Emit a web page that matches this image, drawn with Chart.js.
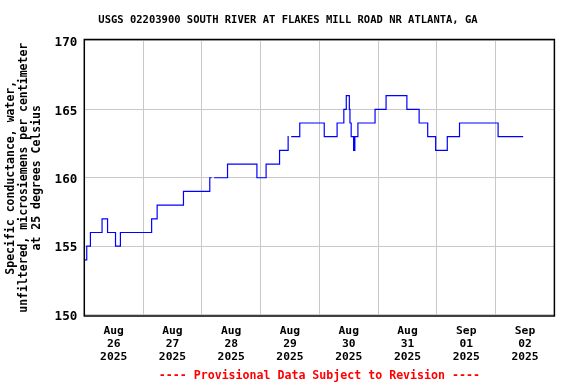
<!DOCTYPE html>
<html>
<head>
<meta charset="utf-8">
<script src="https://cdn.jsdelivr.net/npm/chart.js@4/dist/chart.umd.min.js"></script>
<style>
  html, body { margin: 0; padding: 0; background: #fff; }
  #wrap { width: 576px; height: 384px; }
</style>
</head>
<body>
<div id="wrap"><canvas id="chart"></canvas></div>
<script>
// readings, 2025 (month-day hour:minute) -- only the times the value changes
const times = [
  '08-26 00:15', '08-26 01:00', '08-26 02:30', '08-26 07:15', '08-26 09:30',
  '08-26 12:45', '08-26 14:45', '08-27 03:30', '08-27 05:45', '08-27 16:30',
  '08-28 03:15', '08-28 04:00', '08-28 04:15', '08-28 05:00', '08-28 10:30',
  '08-28 22:30', '08-29 02:15', '08-29 07:45', '08-29 11:15', '08-29 11:30',
  '08-29 11:45', '08-29 12:30', '08-29 16:00', '08-30 02:00', '08-30 07:15',
  '08-30 10:00', '08-30 11:00', '08-30 12:15', '08-30 12:30', '08-30 13:00',
  '08-30 14:00', '08-30 14:30', '08-30 15:45', '08-30 22:45', '08-31 03:15',
  '08-31 11:45', '08-31 16:45', '08-31 20:15', '08-31 23:30', '09-01 04:15',
  '09-01 09:15', '09-02 01:00', '09-02 11:15'
]
const conductance = [
  154, 155, 156, 157, 156,
  155, 156, 157, 158, 159,
  160, 160, null, 160, 161,
  160, 161, 162, 163, 163,
  null, 163, 164, 163, 164,
  165, 166, 165, 164, 163,
  162, 163, 164, 165, 166,
  165, 164, 163, 162, 163,
  164, 163, 163
]

const dayLabels = [
  ['Aug', '26', '2025'], ['Aug', '27', '2025'], ['Aug', '28', '2025'], ['Aug', '29', '2025'],
  ['Aug', '30', '2025'], ['Aug', '31', '2025'], ['Sep', '01', '2025'], ['Sep', '02', '2025']
]
const yTicks = [150, 155, 160, 165, 170]

const chartTitle = 'USGS 02203900 SOUTH RIVER AT FLAKES MILL ROAD NR ATLANTA, GA'
const yTitle = ['Specific conductance, water,', 'unfiltered, microsiemens per centimeter', 'at 25 degrees Celsius']
const footer = '---- Provisional Data Subject to Revision ----'

// hours since Aug 26 00:00
function toHours(s) {
  const [md, hm] = s.split(' ')
  const [m, d] = md.split('-').map(Number)
  const [h, mi] = hm.split(':').map(Number)
  const day = m === 8 ? d - 26 : d + 5
  return day * 24 + h + mi / 60
}

const points = times.map((t, i) => ({ x: toHours(t), y: conductance[i] }))

const mono = 'DejaVu Sans Mono'

const framePlugin = {
  id: 'frame',
  afterDraw(chart) {
    const { ctx, chartArea: a } = chart
    ctx.save()
    ctx.strokeStyle = '#000'
    ctx.lineWidth = 1.5
    ctx.strokeRect(a.left, a.top, a.right - a.left, a.bottom - a.top)
    ctx.fillStyle = '#ff0000'
    ctx.font = 'bold 11.6px ' + mono
    ctx.textAlign = 'center'
    ctx.textBaseline = 'middle'
    ctx.fillText(footer, (a.left + a.right) / 2, 376)
    ctx.restore()
  }
}

new Chart(document.getElementById('chart'), {
  type: 'line',
  data: {
    datasets: [{
      data: points,
      borderColor: '#0000ff',
      borderWidth: 1.2,
      pointRadius: 0,
      stepped: true,
      spanGaps: false
    }]
  },
  options: {
    responsive: true,
    maintainAspectRatio: false,
    animation: false,
    layout: { padding: 0 },
    plugins: {
      legend: { display: false },
      tooltip: { enabled: false },
      title: {
        display: true,
        text: chartTitle,
        color: '#000',
        font: { family: mono, size: 10.5, weight: 'bold', lineHeight: 1.2 },
        padding: { top: 14, bottom: 12.9 }
      }
    },
    scales: {
      x: {
        type: 'linear',
        min: 0,
        max: 192,
        afterBuildTicks(s) { s.ticks = []; for (let v = 0; v <= 192; v += 12) s.ticks.push({ value: v }) },
        afterFit(s) { s.height = 68 },
        grid: {
          drawTicks: false,
          color: c => (c.tick && c.tick.value % 24 === 0) ? '#c8c8c8' : 'rgba(0,0,0,0)',
          lineWidth: 1
        },
        border: { display: false },
        ticks: {
          autoSkip: false,
          maxRotation: 0,
          padding: 9,
          color: '#000',
          font: { family: mono, size: 11.3, weight: 'bold', lineHeight: 1.12 },
          callback: v => (v % 24 === 12) ? dayLabels[(v - 12) / 24] : ''
        }
      },
      y: {
        min: 149.9,
        max: 170.1,
        afterBuildTicks(s) { s.ticks = yTicks.map(v => ({ value: v })) },
        afterFit(s) { s.width = 84.3 },
        grid: { drawTicks: false, color: '#c8c8c8', lineWidth: 1 },
        border: { display: false },
        ticks: {
          padding: 7,
          labelOffset: 2,
          color: '#000',
          font: { family: mono, size: 12.6, weight: 'bold' }
        },
        title: {
          display: true,
          text: yTitle,
          color: '#000',
          font: { family: mono, size: 11.5, weight: 'bold', lineHeight: 1.13 },
          padding: { top: 5, bottom: 0 }
        }
      },
      yR: {
        position: 'right',
        display: true,
        afterFit(s) { s.width = 21.6 },
        grid: { display: false },
        border: { display: false },
        ticks: { display: false }
      }
    }
  },
  plugins: [framePlugin]
})
</script>
</body>
</html>
